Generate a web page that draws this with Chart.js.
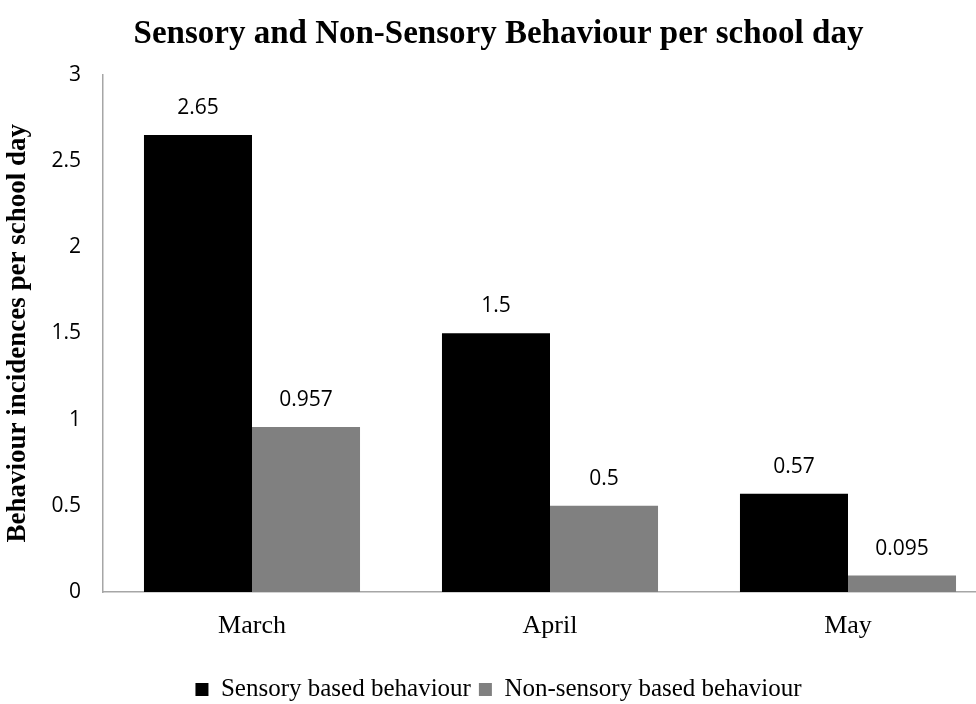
<!DOCTYPE html>
<html>
<head>
<meta charset="utf-8">
<script src="https://cdn.jsdelivr.net/npm/chart.js@4/dist/chart.umd.min.js"></script>
<style>
  html, body { margin: 0; padding: 0; background: #fff; overflow: hidden; }
  #wrap { width: 976px; height: 704px; overflow: hidden; }
  #box { width: 1000px; height: 712px; }
</style>
</head>
<body>
<div id="wrap"><div id="box"><canvas id="chart"></canvas></div></div>
<script>
// données
const months = ["March", "April", "May"];
const sensory = [2.65, 1.5, 0.57];
const nonSensory = [0.957, 0.5, 0.095];
const sensoryLabels = ["2.65", "1.5", "0.57"];
const nonSensoryLabels = ["0.957", "0.5", "0.095"];

const serif = "'Liberation Serif', 'Times New Roman', serif";
const sans = "'Open Sans', 'Liberation Sans', sans-serif";

// étiquettes au-dessus des barres
const barLabels = {
  id: "barLabels",
  afterDatasetsDraw(chart) {
    const ctx = chart.ctx;
    ctx.save();
    ctx.font = "21px " + sans;
    ctx.fillStyle = "#000";
    ctx.textAlign = "center";
    ctx.textBaseline = "middle";
    chart.data.datasets.forEach((ds, i) => {
      const meta = chart.getDatasetMeta(i);
      meta.data.forEach((bar, j) => {
        ctx.fillText(ds.texts[j], bar.x, bar.y - 27);
      });
    });
    ctx.restore();
  }
};

new Chart(document.getElementById("chart"), {
  type: "bar",
  data: {
    labels: months,
    datasets: [
      {
        label: "Sensory based behaviour",
        data: sensory,
        texts: sensoryLabels,
        backgroundColor: "#000000",
        barPercentage: 1,
        categoryPercentage: 0.725
      },
      {
        label: "Non-sensory based behaviour",
        data: nonSensory,
        texts: nonSensoryLabels,
        backgroundColor: "#808080",
        barPercentage: 1,
        categoryPercentage: 0.725
      }
    ]
  },
  options: {
    responsive: true,
    maintainAspectRatio: false,
    animation: false,
    layout: { padding: { left: 0, right: 3, top: 0, bottom: 0 } },
    plugins: {
      title: {
        display: true,
        text: "Sensory and Non-Sensory Behaviour per school day",
        color: "#000",
        font: { family: serif, size: 33, weight: "bold" },
        padding: { top: 15, bottom: 20 }
      },
      legend: {
        position: "bottom",
        labels: {
          color: "#000",
          font: { family: serif, size: 25 },
          boxWidth: 13,
          boxHeight: 13,
          padding: 8
        }
      },
      tooltip: { enabled: false }
    },
    scales: {
      x: {
        grid: { display: false, drawTicks: false },
        border: { color: "#a6a6a6", width: 1.5 },
        ticks: {
          color: "#000",
          font: { family: serif, size: 26 },
          padding: 19
        },
        afterFit(scale) { scale.height = 77; }
      },
      y: {
        min: 0,
        max: 3,
        grid: { display: false, drawTicks: false },
        border: { color: "#a6a6a6", width: 1.5 },
        ticks: {
          stepSize: 0.5,
          color: "#000",
          font: { family: sans, size: 21 },
          padding: 22,
          callback: (v) => String(v)
        },
        title: {
          display: true,
          text: "Behaviour incidences per school day",
          color: "#000",
          font: { family: serif, size: 27, weight: "bold" },
          padding: { top: 2, bottom: 0 }
        },
        afterFit(scale) { scale.width = 103; }
      }
    }
  },
  plugins: [barLabels]
});
</script>
</body>
</html>
